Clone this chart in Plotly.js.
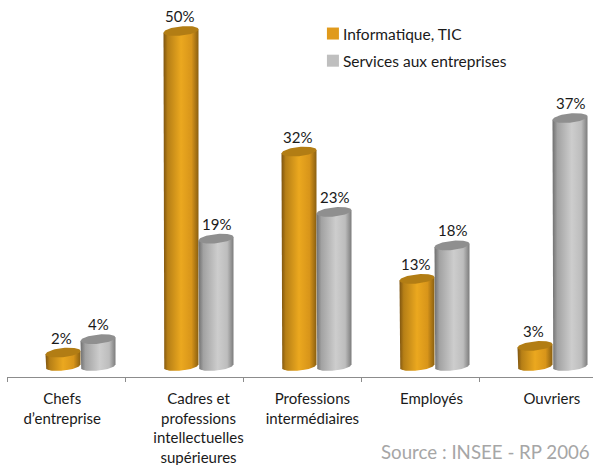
<!DOCTYPE html>
<html>
<head>
<meta charset="utf-8">
<script src="https://cdn.plot.ly/plotly-3.0.0.min.js"></script>
<style>html,body{margin:0;padding:0;background:#fff}#c{width:593px;height:465px}</style>
</head>
<body>
<div id="c"></div>
<script>
const categories = ["Chefs<br>d’entreprise", "Cadres et<br>professions<br>intellectuelles<br>supérieures", "Professions<br>intermédiaires", "Employés", "Ouvriers"];
const seriesNames = ["Informatique, TIC", "Services aux entreprises"];
const informatique = [2, 50, 32, 13, 3];
const services = [4, 19, 23, 18, 37];
const sourceText = "Source : INSEE - RP 2006";

const pxPerX = 118, pxPerY = 6.7, plotW = 586, plotH = 377;
const xMin = -73.5 / pxPerX, xMax = xMin + plotW / pxPerX;
const yMin = -11 / pxPerY, yMax = yMin + plotH / pxPerY;
const barW = 35 / pxPerX, ry = 4.6 / pxPerY, tilt = 1.7 / pxPerY, inset = 2 / pxPerX;
const labelPos = [-0.155, 1, 1.965, 2.975, 3.995];
const xs = categories.map((_, i) => i);

const styles = [
  {flat: "#e09a1c", top: "#b27d14", scale: [[0, "#7d5410"], [0.12, "#b67f16"], [0.5, "#eba81f"], [0.8, "#d8951a"], [1, "#8a5f10"]], off: -barW},
  {flat: "#bfbfbf", top: "#8f8f8f", scale: [[0, "#6f6f6f"], [0.14, "#a2a2a2"], [0.55, "#cdcdcd"], [0.82, "#bdbdbd"], [1, "#7c7c7c"]], off: 0}
];
const series = [informatique, services];

const traces = [];
series.forEach((vals, s) => {
  traces.push({
    type: "bar", name: seriesNames[s], x: xs, y: vals, width: barW - 2 * inset, offset: styles[s].off + inset,
    marker: {color: styles[s].flat, line: {width: 0}}, legendgroup: "g" + s, hoverinfo: "name+y"
  });
});
const N = 32;
series.forEach((vals, s) => {
  vals.forEach((v, i) => {
    const x0 = xs[i] + styles[s].off, cx = x0 + barW / 2, rx = barW / 2;
    const bx = [x0], by = [v - tilt];
    for (let k = 0; k <= N; k++) {
      const a = Math.PI * k / N;
      bx.push(cx - rx * Math.cos(a));
      by.push(-ry * Math.sin(a) - tilt * Math.cos(a));
    }
    bx.push(x0 + barW); by.push(v + tilt);
    bx.push(x0); by.push(v - tilt);
    traces.push({
      type: "scatter", mode: "lines", x: bx, y: by, fill: "toself", line: {width: 0, color: "rgba(0,0,0,0)"},
      fillgradient: {type: "horizontal", colorscale: styles[s].scale},
      showlegend: false, hoverinfo: "skip"
    });
    const tx = [], ty = [];
    for (let k = 0; k <= 2 * N; k++) {
      const a = Math.PI * k / N;
      tx.push(cx + rx * Math.cos(a));
      ty.push(v + ry * Math.sin(a) + tilt * Math.cos(a));
    }
    traces.push({
      type: "scatter", mode: "lines", x: tx, y: ty, fill: "toself", line: {width: 0, color: "rgba(0,0,0,0)"},
      fillcolor: styles[s].top, showlegend: false, hoverinfo: "skip"
    });
  });
});

const annotations = [];
series.forEach((vals, s) => {
  vals.forEach((v, i) => {
    annotations.push({
      x: xs[i] + styles[s].off + barW / 2, y: v, xref: "x", yref: "y", text: v + "%", showarrow: false,
      xanchor: "center", yanchor: "bottom", yshift: 4, xshift: s === 0 ? -2 : 0,
      font: {family: "Lato", size: 15, color: "#1a1a1a"}
    });
  });
});
annotations.push({
  x: 1, y: -0.2, xref: "paper", yref: "paper", text: sourceText, showarrow: false,
  xanchor: "right", yanchor: "middle", xshift: -1,
  font: {family: "Lato", size: 18.7, color: "#a6a6a6"}
});

const layout = {
  width: 593, height: 465,
  margin: {l: 7, r: 0, t: 0, b: 88, pad: 0},
  paper_bgcolor: "#fff", plot_bgcolor: "#fff",
  barmode: "overlay",
  showlegend: true,
  legend: {
    x: 0.505, xanchor: "left", y: 0.955, yanchor: "top", bgcolor: "rgba(0,0,0,0)",
    font: {family: "Lato", size: 15.5, color: "#1a1a1a"}, itemwidth: 30, traceorder: "grouped", tracegroupgap: 4,
    itemclick: false, itemdoubleclick: false
  },
  xaxis: {
    range: [xMin, xMax], showgrid: false, zeroline: false, showline: true, linecolor: "#8c8c8c", linewidth: 1,
    tickmode: "array", tickvals: labelPos, ticktext: categories, ticks: "", ticklabelstandoff: 8,
    tickfont: {family: "Lato", size: 15, color: "#1a1a1a"}, tickangle: 0, automargin: false,
    minor: {tickmode: "array", tickvals: [0, 1, 2, 3, 4].map(k => xMin + k), ticks: "outside", ticklen: 4, tickwidth: 1, tickcolor: "#8c8c8c", showgrid: false}
  },
  yaxis: {range: [yMin, yMax], visible: false, fixedrange: true},
  annotations: annotations
};
Plotly.newPlot("c", traces, layout, {displayModeBar: false}).then(() => {
  document.querySelectorAll(".legend .legendsymbols").forEach(g => g.setAttribute("transform", "translate(10,0)"));
});
</script>
</body>
</html>
